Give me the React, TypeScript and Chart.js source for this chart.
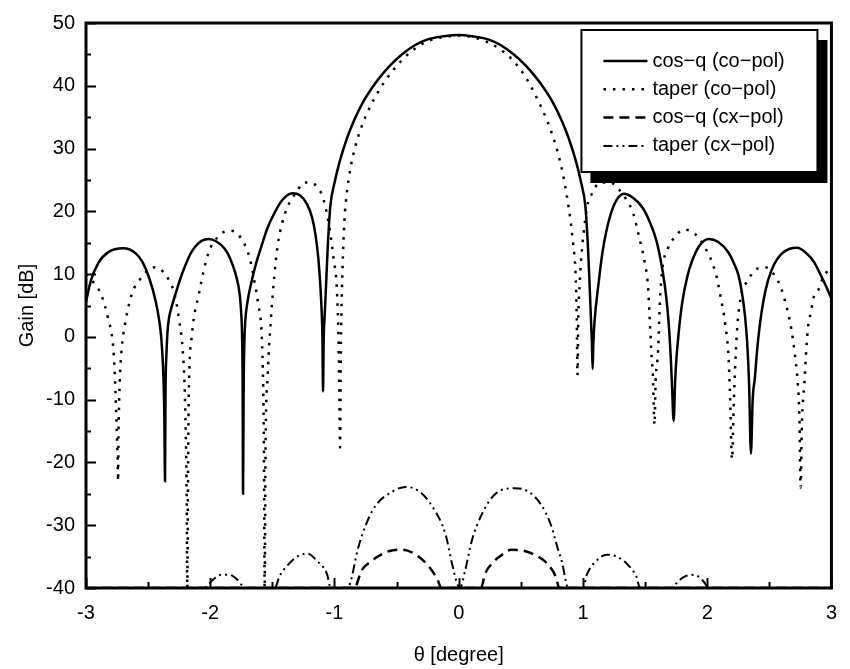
import React, { useEffect, useRef } from "react";
import { Chart, registerables } from "chart.js";

Chart.register(...registerables);

// ---- data (theta in degrees, gain in dB) ----
const thetaCosCo = [
  -3.0, -2.96, -2.9, -2.82, -2.7, -2.6, -2.545, -2.49, -2.438, -2.41, -2.395, -2.38, -2.37, -2.364, -2.36, -2.352,
  -2.344, -2.332, -2.31, -2.28, -2.24, -2.2, -2.16, -2.12, -2.07, -2.014, -1.95, -1.882, -1.84, -1.8, -1.775, -1.762,
  -1.75, -1.744, -1.739, -1.736, -1.731, -1.726, -1.718, -1.7, -1.67, -1.63, -1.59, -1.54, -1.484, -1.42, -1.339,
  -1.28, -1.22, -1.18, -1.153, -1.13, -1.114, -1.102, -1.097, -1.092, -1.087, -1.08, -1.074, -1.065, -1.055, -1.034,
  -1.0, -0.96, -0.9, -0.84, -0.77, -0.7, -0.637, -0.55, -0.45, -0.35, -0.25, -0.12, 0.0, 0.106, 0.236, 0.336, 0.436,
  0.536, 0.623, 0.686, 0.756, 0.826, 0.886, 0.946, 0.986, 1.02, 1.041, 1.052, 1.06, 1.067, 1.072, 1.078, 1.084, 1.09,
  1.1, 1.126, 1.155, 1.19, 1.25, 1.329, 1.4, 1.483, 1.54, 1.589, 1.625, 1.656, 1.68, 1.695, 1.706, 1.716, 1.73, 1.742,
  1.752, 1.765, 1.78, 1.8, 1.84, 1.88, 1.94, 2.013, 2.09, 2.172, 2.22, 2.252, 2.28, 2.305, 2.322, 2.337, 2.352, 2.366,
  2.384, 2.4, 2.424, 2.455, 2.49, 2.54, 2.596, 2.66, 2.723, 2.8, 2.86, 2.91, 2.954, 3.0,
];
const gainCosCo = [
  5.6, 9.0, 11.8, 13.5, 14.1, 13.3, 11.9, 9.3, 5.6, 2.5, 0.0, -4.8, -12, -23, -9, -2.5,
  0.8, 3.0, 4.8, 6.8, 9.3, 11.4, 13.2, 14.4, 15.3, 15.6, 15.2, 14.0, 12.5, 10.3, 8.3, 6.6,
  3.5, 0.4, -8, -25, -8, -1.5, 2.5, 5.6, 8.6, 11.8, 14.3, 17.3, 19.7, 21.8, 22.9,
  22.6, 21.1, 19.0, 16.3, 12.5, 8.2, 3.5, 0.0, -8.7, -0.5, 3.0, 5.5, 9.5, 14.0, 20.7,
  24.5, 27.8, 31.6, 34.6, 37.4, 39.6, 41.3, 43.3, 45.1, 46.5, 47.4, 47.9, 48.1, 47.9, 47.4, 46.5, 45.1,
  43.3, 41.3, 39.6, 37.4, 34.6, 31.6, 27.8, 24.5, 20.7, 14.0, 9.0, 5.0, 1.5, -1.0, -5.1, -1.0, 1.5,
  4.0, 8.6, 13.2, 17.0, 21.0, 22.8, 22.2, 20.5, 18.2, 15.5, 12.3, 8.6, 4.5, 0.8, -3.0, -7.4, -13.4, -7.0,
  -3.5, -0.5, 2.5, 5.6, 9.6, 12.2, 14.6, 15.6, 15.1, 13.4, 11.5, 9.8, 7.0, 3.2, -1.0, -7.4, -18.6, -10,
  -6.5, -2.5, 2.0, 6.0, 9.0, 11.6, 13.2, 14.0, 14.2, 13.3, 11.9, 10.0, 8.2, 6.1,
];

const thetaTaperCo = [
  -3.0, -2.94, -2.875, -2.823, -2.783, -2.77, -2.756, -2.745, -2.742, -2.738, -2.728, -2.716, -2.677, -2.624, -2.571,
  -2.491, -2.44, -2.38, -2.332, -2.293, -2.253, -2.213, -2.2, -2.19, -2.185, -2.178, -2.173, -2.147, -2.094, -2.014,
  -1.94, -1.882, -1.84, -1.79, -1.722, -1.683, -1.643, -1.617, -1.577, -1.568, -1.562, -1.555, -1.537, -1.511, -1.485,
  -1.458, -1.42, -1.378, -1.299, -1.246, -1.2, -1.14, -1.087, -1.034, -1.007, -0.981, -0.968, -0.96, -0.955, -0.95,
  -0.945, -0.935, -0.92, -0.9, -0.87, -0.83, -0.78, -0.72, -0.65, -0.57, -0.48, -0.38, -0.27, -0.14, 0.0, 0.1, 0.2,
  0.32, 0.42, 0.5, 0.57, 0.64, 0.7, 0.75, 0.8, 0.84, 0.87, 0.9, 0.92, 0.94, 0.95, 0.956, 0.962, 0.975, 0.99, 1.006,
  1.033, 1.072, 1.139, 1.219, 1.285, 1.351, 1.404, 1.457, 1.497, 1.523, 1.537, 1.55, 1.563, 1.576, 1.585, 1.605,
  1.62, 1.64, 1.682, 1.735, 1.815, 1.907, 1.974, 2.066, 2.106, 2.145, 2.172, 2.185, 2.199, 2.215, 2.238, 2.278,
  2.318, 2.384, 2.464, 2.543, 2.596, 2.649, 2.676, 2.702, 2.729, 2.742, 2.752, 2.762, 2.782, 2.808, 2.835, 2.861,
  2.9, 2.94, 3.0,
];
const gainTaperCo = [
  10.0, 8.7, 6.6, 3.0, -1.2, -5.3, -12.6, -20, -23, -15, -7, -2.7, 3.0, 7.2, 9.0,
  10.8, 11.1, 10.4, 9.0, 7.2, 3.0, -4.8, -12.6, -25, -40, -20, -9.5, 0.4, 6.6, 13.4,
  15.9, 16.8, 16.9, 16.6, 14.7, 12.6, 8.7, 5.6, -4.8, -17.9, -40, -18, -5.9, 3.0, 9.5,
  14.5, 18.2, 20.7, 23.3, 24.6, 24.6, 23.9, 21.8, 16.6, 12.4, 7.7, -0.1, -10.6, -17.6, -5,
  3.0, 11.0, 18.5, 23.0, 27.0, 30.5, 33.6, 36.4, 39.0, 41.4, 43.6, 45.5, 46.9, 47.7, 48.0, 47.8, 47.2,
  46.0, 44.4, 42.5, 40.3, 37.6, 35.0, 32.4, 29.2, 25.8, 22.5, 18.5, 15.0, 10.3, 3.0, -6.1, 2.5, 9.0, 13.5, 16.6,
  20.7, 22.8, 24.6, 24.6, 23.6, 21.8, 19.7, 15.5, 11.9, 8.2, 3.0, -2.2, -6.4, -14, -7, -2.2,
  6.0, 11.0, 14.0, 15.8, 17.1, 16.3, 14.5, 10.3, 6.6, 2.0, -3.3, -10.0, -19.5, -10, 0.4, 7.2,
  8.7, 10.6, 11.1, 9.8, 7.7, 4.0, 1.4, -2.2, -7.4, -12.6, -24, -14, -7.4, 0.9, 4.0, 6.6,
  7.7, 9.8, 10.8,
];

const thetaCosCx = [
  -3.0, -0.84, -0.782, -0.716, -0.557, -0.45, -0.344, -0.252, -0.172, -0.14, 0.18, 0.211, 0.277, 0.35, 0.423,
  0.53, 0.609, 0.702, 0.781, 0.81, 3.0,
];
const gainCosCx = [
  -40, -40, -37.2, -35.9, -34.1, -33.9, -34.7, -36.3, -38.6, -40, -40, -37.8, -35.9, -34.7, -33.9,
  -34.1, -34.7, -35.9, -38.2, -40, -40,
];

const thetaTaperCx = [
  -3.0, -2.05, -1.98, -1.913, -1.847, -1.781, -1.734, -1.7, -1.48, -1.444, -1.378, -1.3, -1.22, -1.145, -1.06,
  -1.03, -0.9, -0.875, -0.808, -0.689, -0.53, -0.4245, -0.319, -0.213, -0.107, -0.054, -0.014, 0.01, 0.052, 0.105,
  0.185, 0.29, 0.45, 0.556, 0.662, 0.741, 0.794, 0.834, 0.86, 0.88, 1.0, 1.033, 1.112, 1.192, 1.271, 1.351, 1.43,
  1.46, 1.72, 1.75, 1.8, 1.87, 1.93, 1.98, 2.01, 3.0,
];
const gainTaperCx = [
  -40, -40, -38.7, -37.9, -37.9, -38.7, -39.8, -40, -40, -38.2, -36.4, -35.0, -34.5, -35.6, -37.8,
  -40, -40, -39.3, -33.5, -27.5, -24.6, -23.9, -24.6, -27.0, -31.4, -36.1, -39.2, -40, -37.2, -32.5,
  -28.3, -25.1, -24.1, -24.6, -26.7, -29.9, -33.5, -36.1, -38.7, -40, -40, -37.8, -35.6, -34.7, -35.0, -36.1, -38.2,
  -40, -40, -39.3, -38.4, -37.9, -38.2, -39.2, -40, -40,
];

const seriesLabels = ["cos\u2212q (co\u2212pol)", "taper (co\u2212pol)", "cos\u2212q (cx\u2212pol)", "taper (cx\u2212pol)"];
const xAxisTitle = "\u03b8 [degree]";
const yAxisTitle = "Gain [dB]";
const xMin = -3, xMax = 3, xStep = 1, xMinorStep = 0.5;
const yMin = -40, yMax = 50, yStep = 10, yMinorStep = 5;

const FONT = "'Liberation Sans', Arial, Helvetica, sans-serif";

function pts(xs: number[], ys: number[]) {
  return xs.map((x, i) => ({ x, y: ys[i] }));
}

const framePlugin = {
  id: "frameTicks",
  afterDatasetsDraw(chart: any) {
    const { ctx, chartArea } = chart;
    const xs = chart.scales.x;
    const ys = chart.scales.y;
    ctx.save();
    ctx.strokeStyle = "#000";
    ctx.lineWidth = 2;
    ctx.beginPath();
    for (let v = xMin; v <= xMax + 1e-9; v += xMinorStep) {
      const px = Math.round(xs.getPixelForValue(v)) + 0.5;
      const major = Math.abs(v - Math.round(v / xStep) * xStep) < 1e-6;
      const len = major ? 10 : 6;
      ctx.moveTo(px, chartArea.bottom);
      ctx.lineTo(px, chartArea.bottom - len);
    }
    for (let v = yMin; v <= yMax + 1e-9; v += yMinorStep) {
      const py = Math.round(ys.getPixelForValue(v)) + 0.5;
      const major = Math.abs(v - Math.round(v / yStep) * yStep) < 1e-6;
      const len = major ? 10 : 5;
      ctx.moveTo(chartArea.left, py);
      ctx.lineTo(chartArea.left + len, py);
    }
    ctx.stroke();
    ctx.lineWidth = 3;
    ctx.strokeRect(chartArea.left, chartArea.top, chartArea.right - chartArea.left, chartArea.bottom - chartArea.top);
    ctx.restore();
  },
};

const legendPlugin = {
  id: "boxLegend",
  afterDraw(chart: any) {
    const { ctx, chartArea } = chart;
    const w = 236, h = 142;
    const x0 = chartArea.right - 250;
    const y0 = chartArea.top + 7;
    ctx.save();
    ctx.fillStyle = "#000";
    ctx.fillRect(x0 + 9, y0 + 10, w + 1, h + 1);
    ctx.fillStyle = "#fff";
    ctx.fillRect(x0, y0, w, h);
    ctx.strokeStyle = "#000";
    ctx.lineWidth = 2;
    ctx.strokeRect(x0, y0, w, h);
    chart.data.datasets.forEach((ds: any, i: number) => {
      const y = y0 + 31 + i * 28.3;
      ctx.save();
      ctx.strokeStyle = "#000";
      ctx.lineWidth = ds.borderWidth;
      ctx.setLineDash(ds.borderDash || []);
      ctx.beginPath();
      ctx.moveTo(x0 + 22, y);
      ctx.lineTo(x0 + 66, y);
      ctx.stroke();
      ctx.restore();
      ctx.fillStyle = "#000";
      ctx.font = `20px ${FONT}`;
      ctx.textBaseline = "middle";
      ctx.textAlign = "left";
      ctx.fillText(ds.label, x0 + 71, y);
    });
    ctx.restore();
  },
};

export default function App() {
  const canvasRef = useRef<HTMLCanvasElement | null>(null);

  useEffect(() => {
    const canvas = canvasRef.current;
    if (!canvas) return;
    const common = {
      borderColor: "#000",
      backgroundColor: "#000",
      pointRadius: 0,
      fill: false,
      cubicInterpolationMode: "monotone" as const,
      borderCapStyle: "butt" as const,
    };
    const chart = new Chart(canvas, {
      type: "line",
      data: {
        datasets: [
          { ...common, label: seriesLabels[0], data: pts(thetaCosCo, gainCosCo), borderWidth: 2.5 },
          { ...common, label: seriesLabels[1], data: pts(thetaTaperCo, gainTaperCo), borderWidth: 2.5, borderDash: [2.5, 7] },
          { ...common, label: seriesLabels[2], data: pts(thetaCosCx, gainCosCx), borderWidth: 2.5, borderDash: [10, 6] },
          { ...common, label: seriesLabels[3], data: pts(thetaTaperCx, gainTaperCx), borderWidth: 2, borderDash: [9, 4, 2, 4, 2, 4] },
        ],
      },
      options: {
        responsive: false,
        animation: false,
        events: [],
        layout: { padding: { left: 0, top: 13, right: 9, bottom: 0 } },
        plugins: { legend: { display: false }, tooltip: { enabled: false }, title: { display: false } },
        scales: {
          x: {
            type: "linear",
            min: xMin,
            max: xMax,
            grid: { display: false, drawTicks: false },
            border: { display: false },
            ticks: { stepSize: xStep, color: "#000", padding: 13, font: { family: FONT, size: 20 } },
            title: { display: true, text: xAxisTitle, color: "#000", padding: { top: 0, bottom: 2 }, font: { family: FONT, size: 20 } },
            afterFit: (scale: any) => { scale.height = 81; },
          },
          y: {
            type: "linear",
            min: yMin,
            max: yMax,
            grid: { display: false, drawTicks: false },
            border: { display: false },
            ticks: { stepSize: yStep, color: "#000", padding: 11, font: { family: FONT, size: 20 } },
            title: { display: true, text: yAxisTitle, color: "#000", padding: { top: 15, bottom: 0 }, font: { family: FONT, size: 20 } },
            afterFit: (scale: any) => { scale.width = 86; },
          },
        },
      },
      plugins: [framePlugin, legendPlugin],
    });
    return () => chart.destroy();
  }, []);

  return (
    <div style={{ position: "absolute", left: 0, top: 0, width: 850, height: 669, background: "#fff" }}>
      <canvas ref={canvasRef} width={850} height={669} style={{ width: 850, height: 669, display: "block" }} />
    </div>
  );
}
